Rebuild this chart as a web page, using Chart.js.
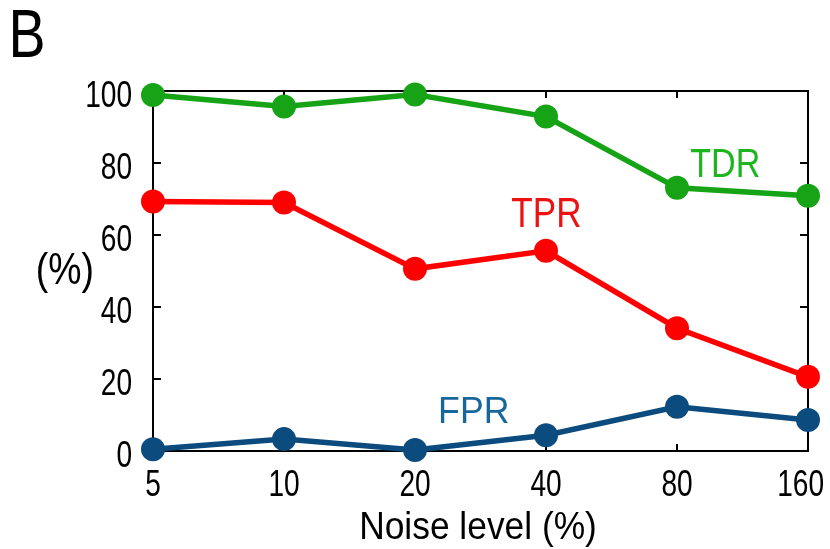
<!DOCTYPE html>
<html><head><meta charset="utf-8">
<script src="https://cdn.jsdelivr.net/npm/chart.js@4/dist/chart.umd.min.js"></script>
<style>html,body{margin:0;padding:0;background:#fff}#wrap{width:830px;height:549px}</style>
</head><body><div id="wrap"><canvas id="c" width="830" height="549"></canvas></div>
<script>
const categories = ['5','10','20','40','80','160'];
const tdr = [98.9, 95.7, 99.0, 92.9, 73.1, 70.9];
const tpr = [69.3, 69.0, 50.6, 55.6, 34.1, 20.6];
const fpr = [0.5, 3.3, 0.3, 4.4, 12.3, 8.6];
const yTicks = [0, 20, 40, 60, 80, 100];
const seriesNames = ['FPR', 'TPR', 'TDR'];
const xTitle = 'Noise level (%)';
const yTitle = '(%)';
const panelLetter = 'B';

const FONT = '"Liberation Sans", Arial, sans-serif';
const HS = 0.78; // horizontal compression of the narrow face

function fitText(ctx, text, cx, cy, w, h, color){
  ctx.save();
  ctx.font = '100px ' + FONT;
  ctx.textAlign = 'left'; ctx.textBaseline = 'alphabetic';
  const m = ctx.measureText(text);
  const iw = m.actualBoundingBoxLeft + m.actualBoundingBoxRight;
  const ih = m.actualBoundingBoxAscent + m.actualBoundingBoxDescent;
  ctx.translate(cx - w/2, cy - h/2);
  ctx.scale(w/iw, h/ih);
  ctx.fillStyle = color;
  ctx.fillText(text, m.actualBoundingBoxLeft, m.actualBoundingBoxAscent);
  ctx.restore();
}
function narrowText(ctx, text, x, y, align){
  ctx.save();
  ctx.font = '36px ' + FONT;
  ctx.textAlign = align; ctx.textBaseline = 'alphabetic';
  ctx.translate(x, y); ctx.scale(HS, 1);
  ctx.fillStyle = '#000';
  ctx.fillText(text, 0, 0);
  ctx.restore();
}

const framePlugin = {
  id:'frame',
  beforeDatasetsDraw(chart){
    const {ctx, chartArea:a, scales:{x,y}} = chart;
    ctx.save();
    ctx.strokeStyle = '#000'; ctx.lineWidth = 2;
    ctx.strokeRect(a.left, a.top, a.right-a.left, a.bottom-a.top);
    ctx.beginPath();
    y.ticks.forEach(t=>{ const py = y.getPixelForValue(t.value);
      ctx.moveTo(a.left, py); ctx.lineTo(a.left+8, py);
      ctx.moveTo(a.right, py); ctx.lineTo(a.right-8, py); });
    x.ticks.forEach((t,i)=>{ const px = x.getPixelForTick(i);
      ctx.moveTo(px, a.bottom); ctx.lineTo(px, a.bottom-7);
      ctx.moveTo(px, a.top); ctx.lineTo(px, a.top+7); });
    ctx.stroke();
    // tick labels
    y.ticks.forEach(t=>{ narrowText(ctx, String(t.value), a.left-21, y.getPixelForValue(t.value)+16, 'right'); });
    x.ticks.forEach((t,i)=>{
      const lbl = x.getLabelForValue(t.value);
      ctx.save(); ctx.font='36px '+FONT;
      const w = ctx.measureText(lbl).width*HS; ctx.restore();
      let px = x.getPixelForTick(i);
      px = Math.min(px, 824 - w/2);
      narrowText(ctx, lbl, px, a.bottom+45, 'center');
    });
    ctx.restore();
  },
  afterDraw(chart){
    const {ctx, chartArea:a, scales:{x,y}} = chart;
    // series labels placed in data space
    fitText(ctx, seriesNames[2], x.getPixelForValue(4.366), y.getPixelForValue(80.1), 68, 29, '#1db51d');
    fitText(ctx, seriesNames[1], x.getPixelForValue(3.0), y.getPixelForValue(66.4), 68, 30, '#ee1111');
    fitText(ctx, seriesNames[0], x.getPixelForValue(2.454), y.getPixelForValue(11.4), 67, 26, '#17679a');
    fitText(ctx, xTitle, (a.left+a.right)/2 - 2, 529, 233, 36, '#000');
    fitText(ctx, yTitle, 65, 272.5, 54, 41, '#000');
    fitText(ctx, panelLetter, 28, 33.5, 30, 47, '#000');
  }
};

const mk = (data,color,label)=>({label, data, borderColor:color, backgroundColor:color, borderWidth:5.5,
  pointRadius:12, pointHoverRadius:12, pointBorderWidth:0, tension:0, clip:false});

new Chart(document.getElementById('c'), {
  type:'line',
  data:{labels:categories, datasets:[mk(fpr,'#0b4b7e','FPR'), mk(tpr,'#ff0000','TPR'), mk(tdr,'#16a316','TDR')]},
  options:{
    responsive:false, animation:false, devicePixelRatio:1,
    layout:{padding:{top:91, right:22, left:0, bottom:0}},
    plugins:{legend:{display:false}, tooltip:{enabled:false}},
    scales:{
      x:{type:'category', offset:false, grid:{display:false}, border:{display:false},
        ticks:{display:false, autoSkip:false, maxRotation:0},
        afterFit(s){ s.height = 98; s.paddingLeft = 0; s.paddingRight = 0; }},
      y:{min:0, max:100, grid:{display:false}, border:{display:false},
        afterBuildTicks(s){ s.ticks = yTicks.map(v=>({value:v})); },
        ticks:{display:false},
        afterFit(s){ s.width = 153; s.paddingTop = 0; s.paddingBottom = 0; }}
    }
  },
  plugins:[framePlugin]
});
</script></body></html>
